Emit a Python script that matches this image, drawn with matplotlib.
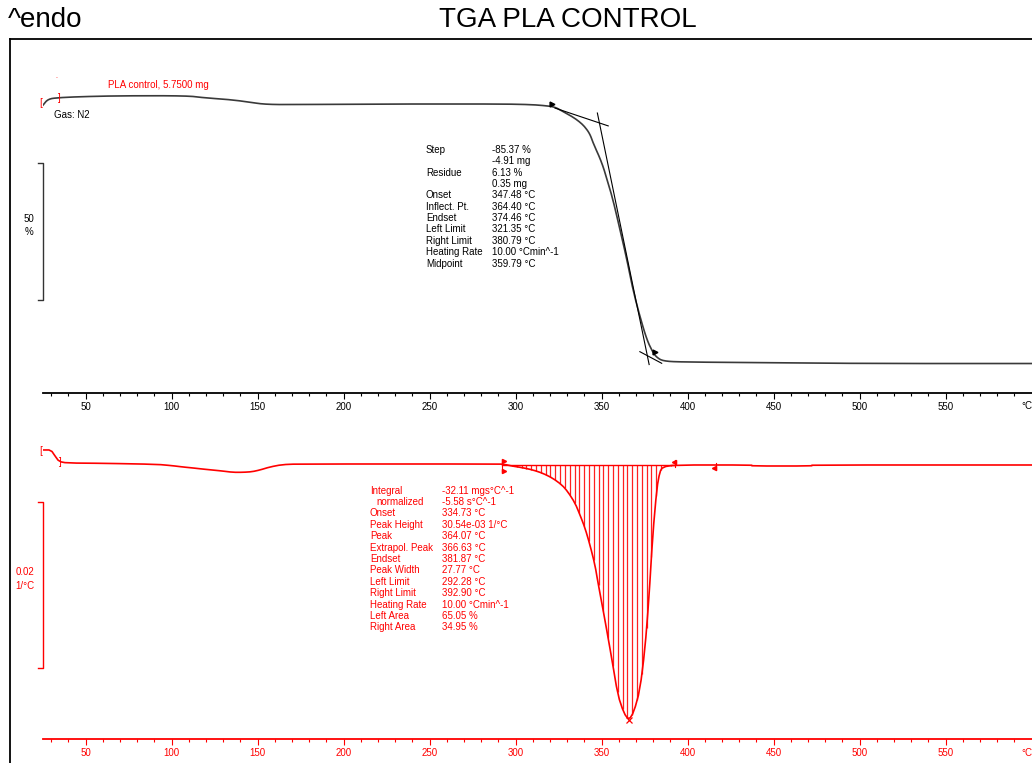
import numpy as np
import matplotlib
matplotlib.use('Agg')
import matplotlib.pyplot as plt
from matplotlib.lines import Line2D

plt.rcParams['font.family'] = ['Liberation Sans', 'DejaVu Sans']

W, H = 1032, 763

# TGA curve: temperature (°C) and mass (%)
tga_temp = [25.2, 28.1, 33.9, 48.4, 71.7, 108.9, 118.2, 135.6, 145.5, 155.4, 174.6,
            232.7, 290.9, 308.3, 317.0, 322.8, 327.0, 333.4, 337.5, 340.3, 343.2, 345.0,
            350.2, 353.7, 356.6, 360.7, 364.7, 368.2, 372.3, 376.3, 379.8, 382.1, 385.6,
            395.5, 436.2, 500.1, 600.1]
tga_mass = [99.9, 102.1, 102.6, 103.0, 103.3, 103.3, 102.6, 101.8, 100.9, 100.1, 100.1,
            100.3, 100.3, 100.1, 99.7, 99.2, 97.7, 95.5, 93.6, 91.9, 89.3, 86.1,
            78.8, 71.5, 65.3, 54.3, 43.4, 32.4, 22.6, 14.2, 9.6, 7.8, 6.5,
            6.13, 5.95, 5.58, 5.58]

# DTG curve: temperature (°C) and dm/dT (1/°C)
dtg_temp = [25.2, 29.8, 32.2, 34.5, 39.1, 61.2, 91.5, 100.2, 106.6, 112.4, 117.6,
            123.4, 129.2, 135.6, 141.5, 146.7, 151.3, 157.1, 164.1, 172.8, 290.9,
            293.8, 297.8, 304.1, 310.0, 315.8, 321.6, 326.9, 330.3, 334.5, 337.4,
            340.3, 343.2, 346.1, 347.8, 351.9, 356.0, 359.4, 362.9, 365.8, 368.7,
            372.2, 375.1, 377.4, 379.7, 382.1, 383.8, 385.5, 392.5, 437.2, 437.4,
            472.1, 472.3, 600.1]
dtg_val = [0.00181, 0.00181, 0.00108, 0.00042, 0.00024, 0.00020, 0.00008, -0.00008,
           -0.00024, -0.00036, -0.00048, -0.00060, -0.00072, -0.00088, -0.00088,
           -0.00081, -0.00060, -0.00024, 0.00004, 0.00012, 0.00012, 0.00006, -0.00012,
           -0.00033, -0.00060, -0.00100, -0.00160, -0.00241, -0.00322, -0.00458,
           -0.00602, -0.00759, -0.00964, -0.01205, -0.01410, -0.01867, -0.02349,
           -0.02771, -0.02988, -0.03072, -0.02976, -0.02711, -0.02229, -0.01627,
           -0.00843, -0.00277, -0.00084, -0.00024, 0.0, 0.0, -0.00012, -0.00012,
           0.0, 0.0]

# evaluation results
tga_left, tga_right = 321.35, 380.79
dtg_left, dtg_right = 292.28, 392.90
dtg_extra_mark = 416.4
peak_temp = 365.8

tga_labels = ['Step', '', 'Residue', '', 'Onset', 'Inflect. Pt.', 'Endset',
              'Left Limit', 'Right Limit', 'Heating Rate', 'Midpoint']
tga_values = ['-85.37 %', '-4.91 mg', '6.13 %', '0.35 mg', '347.48 °C', '364.40 °C',
              '374.46 °C', '321.35 °C', '380.79 °C', '10.00 °Cmin^-1', '359.79 °C']

dtg_labels = ['Integral', 'normalized', 'Onset', 'Peak Height', 'Peak', 'Extrapol. Peak',
              'Endset', 'Peak Width', 'Left Limit', 'Right Limit', 'Heating Rate',
              'Left Area', 'Right Area']
dtg_values = ['-32.11 mgs°C^-1', '-5.58 s°C^-1', '334.73 °C', '30.54e-03 1/°C',
              '364.07 °C', '366.63 °C', '381.87 °C', '27.77 °C', '292.28 °C',
              '392.90 °C', '10.00 °Cmin^-1', '65.05 %', '34.95 %']

# tangent construction lines on the TGA step
tangent_x = [[322.9, 353.8], [347.5, 377.6], [372.2, 384.9]]
tangent_y = [[98.8, 92.3], [97.0, 5.2], [9.9, 5.66]]

major_ticks = list(range(50, 551, 50))
minor_ticks = list(range(30, 591, 10))


def fx(px):
    return px / W


def fy(py):
    return 1 - py / H


def chaikin(x, y, n=2):
    # corner cutting so the polyline reads as a smooth trace
    x, y = np.asarray(x, float), np.asarray(y, float)
    for _ in range(n):
        qx = 0.75 * x[:-1] + 0.25 * x[1:]
        qy = 0.75 * y[:-1] + 0.25 * y[1:]
        rx = 0.25 * x[:-1] + 0.75 * x[1:]
        ry = 0.25 * y[:-1] + 0.75 * y[1:]
        x = np.concatenate([[x[0]], np.column_stack([qx, rx]).ravel(), [x[-1]]])
        y = np.concatenate([[y[0]], np.column_stack([qy, ry]).ravel(), [y[-1]]])
    return x, y


fig = plt.figure(figsize=(W / 100, H / 100), dpi=100)

# frame
fig.add_artist(Line2D([fx(9.5), fx(9.5)], [fy(39.3), 0], color='black', lw=1.3))
fig.add_artist(Line2D([fx(9.5), 1], [fy(39.3), fy(39.3)], color='black', lw=1.3))

fig.text(fx(8), fy(20), '^endo', fontsize=20, ha='left', va='center')
fig.text(fx(568), fy(20), 'TGA PLA CONTROL', fontsize=20, ha='center', va='center')


def style_axis(ax, color):
    for s in ['top', 'left', 'right']:
        ax.spines[s].set_visible(False)
    ax.spines['bottom'].set_color(color)
    ax.spines['bottom'].set_linewidth(1.3)
    ax.set_yticks([])
    ax.set_xlim(25.35, 600.2)
    ax.set_xticks(major_ticks)
    ax.set_xticklabels([str(t) for t in major_ticks])
    ax.set_xticks(minor_ticks, minor=True)
    ax.tick_params(axis='x', which='major', length=4, width=0.8, color=color,
                   labelcolor=color, labelsize=7, pad=2.5)
    ax.tick_params(axis='x', which='minor', length=2, width=0.8, color=color)
    ax.patch.set_visible(False)


# ---- TGA (top) ----
ax1 = fig.add_axes([fx(43.3), fy(392.7), 1 - fx(43.3), fy(40) - fy(392.7)])
style_axis(ax1, 'black')
ax1.set_ylim(-5.07, 123.65)
sx, sy = chaikin(tga_temp, tga_mass)
ax1.plot(sx, sy, color='#3a3a3a', lw=1.2, solid_joinstyle='round')
for tx, ty in zip(tangent_x, tangent_y):
    ax1.plot(tx, ty, color='black', lw=0.8)
for t in [tga_left, tga_right]:
    ax1.plot(t, np.interp(t, tga_temp, tga_mass) + 1.0, marker='>', ms=3.5,
             color='black', ls='none')

# 50 % scale bar
bar_lo, bar_hi = 28.76, 78.76
trans1 = ax1.get_yaxis_transform()
ax1.plot([-5 / 989, 0, 0, -5 / 989], [bar_lo, bar_lo, bar_hi, bar_hi], color='#333333',
         lw=1.0, transform=trans1, clip_on=False)
fig.text(fx(28.5), fy(219), '50', fontsize=7, ha='center', va='center')
fig.text(fx(29), fy(232), '%', fontsize=7, ha='center', va='center')
fig.text(fx(1027), fy(406), '°C', fontsize=7, ha='center', va='center')

fig.text(fx(41), fy(103), '[', fontsize=7, color='red', ha='center', va='center')
fig.text(fx(59), fy(98), ']', fontsize=7, color='red', ha='center', va='center')
fig.text(fx(56), fy(77), '.', fontsize=5, color='red', ha='center', va='center')
fig.text(fx(108), fy(85), 'PLA control, 5.7500 mg', fontsize=7, color='red',
         ha='left', va='center')
fig.text(fx(54), fy(115), 'Gas: N2', fontsize=7, color='black', ha='left', va='center')

for i, (lab, val) in enumerate(zip(tga_labels, tga_values)):
    y = 150 + i * 11.35
    fig.text(fx(426), fy(y), lab, fontsize=7, ha='left', va='center')
    fig.text(fx(491.5), fy(y), val, fontsize=7, ha='left', va='center')

# ---- DTG (bottom) ----
ax2 = fig.add_axes([fx(43.3), fy(739), 1 - fx(43.3), fy(400) - fy(739)])
style_axis(ax2, 'red')
ax2.set_ylim(-0.03301, 0.00783)
dx, dy = chaikin(dtg_temp, dtg_val, n=1)
hatch_t = np.linspace(dtg_left, dtg_right, 37)
hatch_v = np.minimum(np.interp(hatch_t, dx, dy), 0)
ax2.vlines(hatch_t, 0, hatch_v, color='#ff2020', lw=0.9)
ax2.plot([dtg_left, dtg_right], [0, 0], color='red', lw=1.0)
ax2.plot(dx, dy, color='red', lw=1.2, solid_joinstyle='round')
ax2.plot(peak_temp, min(dtg_val), marker='x', ms=5, mew=0.9, color='red')
ax2.plot([dtg_left, dtg_left], [0.0004, -0.0007], color='red', lw=0.8)
ax2.plot([dtg_left + 1, dtg_left + 1], [0.00045, -0.00075], marker='>', ms=3,
         color='red', ls='none')
ax2.plot([dtg_right, dtg_right], [0.0006, -0.0002], color='red', lw=0.8)
ax2.plot(dtg_right - 1, 0.0004, marker='<', ms=3, color='red')
ax2.plot([dtg_extra_mark, dtg_extra_mark], [0.0003, -0.0006], color='red', lw=0.8)
ax2.plot(dtg_extra_mark - 1, -0.0004, marker='<', ms=3, color='red')

# 0.02 1/°C scale bar
trans2 = ax2.get_yaxis_transform()
bar2_lo = -(668.3 - 465) / 8300
ax2.plot([-5 / 989, 0, 0, -5 / 989], [bar2_lo, bar2_lo, bar2_lo + 0.02, bar2_lo + 0.02],
         color='red', lw=1.0, transform=trans2, clip_on=False)
fig.text(fx(25), fy(572), '0.02', fontsize=7, color='red', ha='center', va='center')
fig.text(fx(24.5), fy(586), '1/°C', fontsize=7, color='red', ha='center', va='center')
fig.text(fx(1027), fy(753), '°C', fontsize=7, color='red', ha='center', va='center')

fig.text(fx(41), fy(451), '[', fontsize=7, color='red', ha='center', va='center')
fig.text(fx(60), fy(462), ']', fontsize=7, color='red', ha='center', va='center')

for i, (lab, val) in enumerate(zip(dtg_labels, dtg_values)):
    y = 490.7 + i * 11.38
    lx = 376 if lab == 'normalized' else 370
    fig.text(fx(lx), fy(y), lab, fontsize=7, color='red', ha='left', va='center')
    fig.text(fx(441.5), fy(y), val, fontsize=7, color='red', ha='left', va='center')

fig.savefig('out.png', dpi=100)
